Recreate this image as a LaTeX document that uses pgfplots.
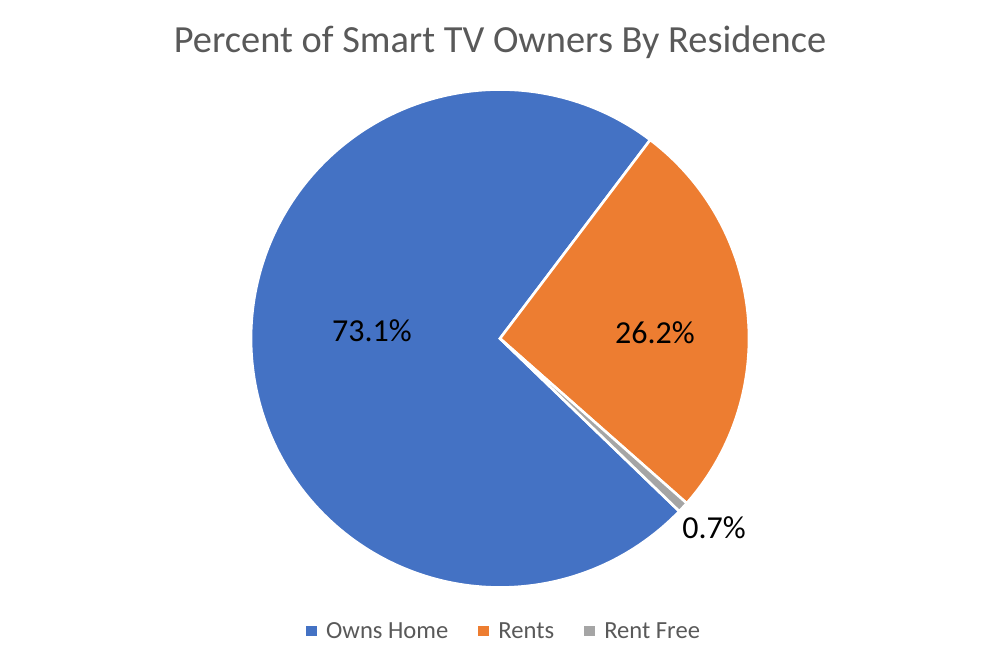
\documentclass[border=0pt]{standalone}
\usepackage{pgfplots}
\pgfplotsset{compat=1.18}
\usepackage{pgfplotstable}
\usepackage{fontspec}
\setmainfont{Carlito}
\definecolor{cBlue}{HTML}{4472C4}
\definecolor{cOrange}{HTML}{ED7D31}
\definecolor{cGray}{HTML}{A5A5A5}
\definecolor{cText}{HTML}{595959}
\pgfplotstableread{
label value
OwnsHome 73.1
Rents 26.2
RentFree 0.7
}\piedata
\pgfplotstablegetelem{0}{value}\of\piedata\let\vA\pgfplotsretval%
\pgfplotstablegetelem{1}{value}\of\piedata\let\vB\pgfplotsretval%
\pgfplotstablegetelem{2}{value}\of\piedata\let\vC\pgfplotsretval%
\pgfmathsetmacro{\s}{52.9}%
\pgfmathsetmacro{\aEnd}{\s+3.6*\vA}%
\pgfmathsetmacro{\bStart}{\s-3.6*\vB}%
\pgfmathsetmacro{\cStart}{\bStart-3.6*\vC}%
\def\cx{500}\def\cy{328.5}\def\r{249}%
\begin{document}%
\begin{tikzpicture}
\useasboundingbox (0,0) rectangle (500pt,333.5pt);
\begin{axis}[
  at={(0,0)}, anchor=south west,
  scale only axis, width=500pt, height=333.5pt,
  xmin=0, xmax=1000, ymin=0, ymax=667,
  hide axis, clip=false,
  legend columns=3,
  legend style={draw=none, fill=none, at={(0.505,35/667)}, anchor=center,
    font=\fontsize{12.3}{14}\selectfont, text=cText,
    /tikz/every even column/.append style={column sep=13pt},
    legend cell align=left},
  legend image code/.code={\fill[#1,draw=none] (0pt,-2.2pt) rectangle (5.4pt,3.2pt); \path (7.4pt,0pt);},
]
\addplot[fill=cBlue, draw=white, line width=1.3pt, domain=\s:\aEnd, samples=200, variable=\t]
  ({\cx+\r*cos(\t)},{\cy+\r*sin(\t)}) -- (axis cs:\cx,\cy) -- cycle;
\addlegendentry{Owns Home}
\addplot[fill=cOrange, draw=white, line width=1.3pt, domain=\bStart:\s, samples=100, variable=\t]
  ({\cx+\r*cos(\t)},{\cy+\r*sin(\t)}) -- (axis cs:\cx,\cy) -- cycle;
\addlegendentry{Rents}
\addplot[fill=cGray, draw=white, line width=1.3pt, domain=\cStart:\bStart, samples=10, variable=\t]
  ({\cx+\r*cos(\t)},{\cy+\r*sin(\t)}) -- (axis cs:\cx,\cy) -- cycle;
\addlegendentry{Rent Free}
\node[text=cText, font=\fontsize{19.2}{23}\selectfont] at (axis cs:500,625) {Percent of Smart TV Owners By Residence};
\node[font=\fontsize{16}{19}\selectfont] at (axis cs:372,336) {73.1\%};
\node[font=\fontsize{16}{19}\selectfont] at (axis cs:655,334) {26.2\%};
\node[font=\fontsize{16}{19}\selectfont] at (axis cs:714,139) {0.7\%};
\end{axis}
\end{tikzpicture}%
\end{document}
